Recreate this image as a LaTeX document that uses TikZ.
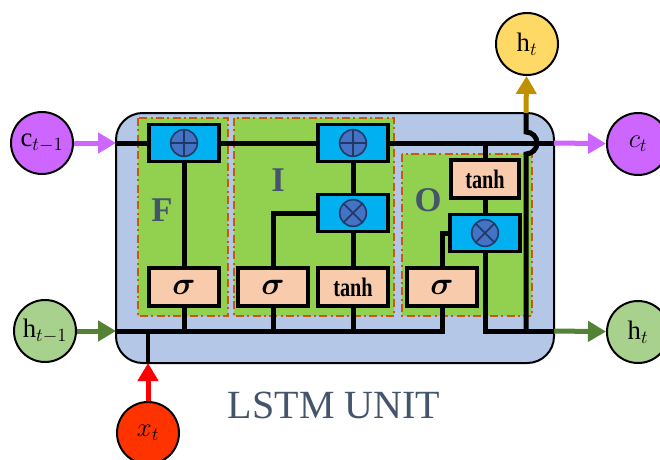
\RequirePackage{fix-cm}
\documentclass[tikz,border=0pt]{standalone}
\usepackage{fontspec}
\setmainfont{Liberation Serif}
\usepackage{bm}
\usetikzlibrary{arrows.meta}
\definecolor{boxblue}{HTML}{B4C7E7}
\definecolor{gategreen}{HTML}{92D050}
\definecolor{dashorange}{HTML}{C55A11}
\definecolor{opblue}{HTML}{00B0F0}
\definecolor{symblue}{HTML}{4472C4}
\definecolor{symdark}{HTML}{203864}
\definecolor{peach}{HTML}{F8CBAD}
\definecolor{magenta1}{HTML}{CC66FF}
\definecolor{hgreen}{HTML}{A9D18E}
\definecolor{hgreenarrow}{HTML}{548235}
\definecolor{xred}{HTML}{FF3300}
\definecolor{gold}{HTML}{FFD966}
\definecolor{goldarrow}{HTML}{BF9000}
\definecolor{slate}{HTML}{44546A}
\pgfdeclarelayer{back}
\pgfdeclarelayer{mid}
\pgfsetlayers{back,mid,main}
\begin{document}
\begin{tikzpicture}[x=0.75pt,y=-0.75pt,
  wire/.style={line width=3.75pt, line join=miter},
  gatebox/.style={fill=gategreen, draw=dashorange, line width=1.5pt, dash pattern=on 6pt off 2.5pt on 1.5pt off 2.5pt},
  opbox/.style={draw, line width=2.4pt, fill=opblue, minimum width=52.5pt, minimum height=27.75pt, inner sep=0pt},
  actbox/.style={draw, line width=2.4pt, fill=peach, minimum width=52.5pt, minimum height=28.5pt, inner sep=0pt, font=\fontsize{20}{22}\selectfont\bfseries},
  io/.style={circle, draw, line width=1.5pt, minimum size=46.5pt, inner sep=0pt, font=\fontsize{20}{22}\selectfont},
  symb/.style={fill=symblue, draw=symdark, line width=1.2pt},
  symbline/.style={draw=symdark, line width=1.2pt},
  gatelabel/.style={text=slate, font=\fontsize{26}{28}\selectfont\bfseries},
  arr/.style={line width=3.75pt, -{Triangle[length=13.5pt,width=15pt]}}
]
\useasboundingbox (0,0) rectangle (660,460);
\clip (0,0) rectangle (660,460);

% background: unit box and gate regions
\begin{pgfonlayer}{back}
  \draw[fill=boxblue, line width=1.5pt, rounded corners=20pt] (116,113) rectangle (554,363);
  \draw[gatebox] (138,118) rectangle (228,316);
  \draw[gatebox] (234,118) rectangle (394,316);
  \draw[gatebox] (402,154) rectangle (532,316);
\end{pgfonlayer}

% blocks
\node[opbox] (fp) at (184,143) {};
\node[actbox] (fs) at (184,287) {\fontsize{24}{26}\selectfont$\bm{\sigma}$};
\node[opbox] (ip) at (353,143) {};
\node[opbox] (im) at (353,213) {};
\node[actbox] (is) at (273,287) {\fontsize{24}{26}\selectfont$\bm{\sigma}$};
\node[actbox] (it) at (353,287) {\scalebox{0.76}[1]{tanh}};
\node[actbox, minimum width=51pt] (ot) at (485,179) {\scalebox{0.76}[1]{tanh}};
\node[opbox] (om) at (485,233) {};
\node[actbox] (os) at (442,287) {\fontsize{24}{26}\selectfont$\bm{\sigma}$};

% operator symbols
\foreach \n in {fp,ip} {
  \draw[symb] (\n.center) circle (10pt);
  \draw[symbline] (\n.center) ++(-10pt,0) -- ++(20pt,0);
  \draw[symbline] (\n.center) ++(0,-10pt) -- ++(0,20pt);
}
\foreach \n in {im,om} {
  \draw[symb] (\n.center) circle (10pt);
  \draw[symbline] (\n.center) ++(-7.07pt,-7.07pt) -- ++(14.14pt,14.14pt);
  \draw[symbline] (\n.center) ++(-7.07pt,7.07pt) -- ++(14.14pt,-14.14pt);
}

% gate labels
\node[gatelabel] (lf) at (162,210) {F};
\node[gatelabel] (li) at (278,180) {I};
\node[gatelabel] (lo) at (428,200) {O};
\node[text=slate, font=\fontsize{30}{32}\selectfont] (title) at (334,405) {LSTM UNIT};

% io circles
\node[io, fill=magenta1] (cp) at (42,143) {$\mathrm{c}_{t-1}$};
\node[io, fill=hgreen] (hp) at (45,331) {$\mathrm{h}_{t-1}$};
\node[io, fill=xred] (xt) at (148,433) {$x_t$};
\node[io, fill=gold] (htop) at (527,44) {$\mathrm{h}_t$};
\node[io, fill=magenta1] (ct) at (638,144) {$c_t$};
\node[io, fill=hgreen] (hn) at (638,332) {$\mathrm{h}_t$};

% boundary coordinates
\coordinate (cin) at (116,143);
\coordinate (cout) at (554,143);
\coordinate (hin) at (116,331);
\coordinate (hout) at (554,331);
\coordinate (xin) at (148,363);
\coordinate (xjoin) at (148,331);
\coordinate (htopout) at (526,113);
\coordinate (hopbase) at (526,331);
\coordinate (obranch) at (442,331);

% wires
\begin{pgfonlayer}{mid}
  \draw[wire] (cin) -- (cout);
  \draw[wire] (hin) -- (obranch) -- (os.south);
  \draw[wire] (fs.south |- hin) -- (fs.south);
  \draw[wire] (is.south |- hin) -- (is.south);
  \draw[wire] (it.south |- hin) -- (it.south);
  \draw[wire] (fs.north) -- (fp.south);
  \draw[wire] (is.north) |- (im.west);
  \draw[wire] (it.north) -- (im.south);
  \draw[wire] (im.north) -- (ip.south);
  \draw[wire] (ot.north |- cin) -- (ot.north);
  \draw[wire] (ot.south) -- (om.north);
  \draw[wire] (os.north) |- (om.west);
  \draw[wire] (om.south) |- (hout);
  \draw[wire] (hopbase) -- (526,154) arc[start angle=90, end angle=-90, radius=11] -- (htopout);
  \draw[wire, line width=3.2pt] (xin) -- (xjoin);
\end{pgfonlayer}

% arrows
\draw[arr, draw=magenta1, fill=magenta1] (cp) -- (cin);
\draw[arr, draw=hgreenarrow, fill=hgreenarrow] (hp) -- (hin);
\draw[arr, draw=red, fill=red] (xt) -- (xin);
\draw[arr, draw=goldarrow, fill=goldarrow] (htopout) -- (htop);
\draw[arr, draw=magenta1, fill=magenta1] (cout) -- (ct);
\draw[arr, draw=hgreenarrow, fill=hgreenarrow] (hout) -- (hn);
\end{tikzpicture}
\end{document}
